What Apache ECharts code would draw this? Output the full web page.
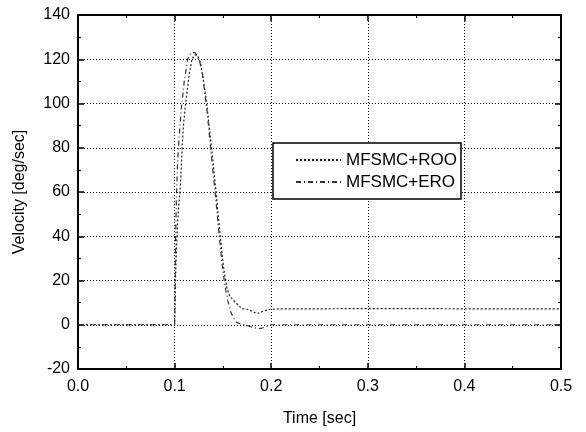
<!DOCTYPE html>
<html>
<head>
<meta charset="utf-8">
<script src="https://cdn.jsdelivr.net/npm/echarts@6/dist/echarts.min.js"></script>
<style>
  html, body { margin: 0; padding: 0; background: #fff; }
  #chart { width: 586px; height: 432px; }
</style>
</head>
<body>
<div id="chart"></div>
<script>
// MFSMC+ROO (settles around 7 deg/sec)
const timeRoo = [0, 0.1, 0.1005, 0.101, 0.102, 0.103, 0.1045, 0.106, 0.107, 0.108, 0.1095, 0.112, 0.115, 0.118, 0.121, 0.124, 0.127, 0.130, 0.133, 0.136, 0.139, 0.142, 0.145, 0.148, 0.151, 0.154, 0.157, 0.161, 0.1645, 0.1695, 0.176, 0.181, 0.185, 0.189, 0.192, 0.199, 0.21, 0.25, 0.3, 0.35, 0.4, 0.45, 0.5]
const velRoo = [0, 0, 10, 22, 35, 45, 55, 63, 72, 82, 92, 102, 113, 120, 122, 121.5, 118, 110, 101, 89, 77, 64, 50, 37, 25, 17, 13, 11, 9.5, 7.3, 6.9, 6, 5.1, 5.6, 6.2, 7, 7.2, 7.2, 7.3, 7.3, 7.2, 7.2, 7.2]
// MFSMC+ERO (settles at 0)
const timeEro = [0, 0.1, 0.1003, 0.1007, 0.101, 0.1015, 0.102, 0.103, 0.1045, 0.107, 0.110, 0.1135, 0.117, 0.119, 0.121, 0.123, 0.126, 0.129, 0.132, 0.134, 0.137, 0.140, 0.143, 0.146, 0.149, 0.152, 0.155, 0.158, 0.161, 0.164, 0.168, 0.172, 0.178, 0.185, 0.190, 0.195, 0.2, 0.5]
const velEro = [0, 0, 10, 25, 38, 50, 60, 72, 84, 98, 110, 120, 123, 123.3, 123, 122, 119, 113, 102, 95, 81, 68, 55, 41, 28, 18, 11, 6, 3, 1.2, 0.3, 0, -0.8, -1.6, -1.6, -0.8, 0, 0]

const xTicks = ['0.0', '0.1', '0.2', '0.3', '0.4', '0.5']
const yTicks = [-20, 0, 20, 40, 60, 80, 100, 120, 140]

const font = "'Liberation Sans', Arial, sans-serif"

function pairs(ts, vs) {
  return ts.map((t, i) => [t, vs[i]])
}

const myChart = echarts.init(document.getElementById('chart'))

const baseAxisLine = { show: true, onZero: false, lineStyle: { color: '#000', width: 2 } }
const baseTick = { show: true, inside: true, length: 6, lineStyle: { color: '#000', width: 1.5 } }
const baseMinor = { show: true, splitNumber: 2, length: 3, lineStyle: { color: '#000', width: 1 } }
const gridLine = { show: true, lineStyle: { color: '#000', width: 1, type: [1, 2] } }

const option = {
  animation: false,
  backgroundColor: '#fff',
  grid: { left: 78, right: 25, top: 15, bottom: 60 },
  legend: {
    left: 273,
    top: 143,
    orient: 'vertical',
    backgroundColor: '#fff',
    borderColor: '#000',
    borderWidth: 1.5,
    borderRadius: 0,
    padding: [8, 4, 8, 22],
    itemWidth: 45,
    itemHeight: 14,
    itemGap: 4,
    itemStyle: { opacity: 0 },
    textStyle: { fontFamily: font, fontSize: 17, color: '#000', lineHeight: 18 },
    data: ['MFSMC+ROO', 'MFSMC+ERO']
  },
  xAxis: [
    {
      type: 'value',
      position: 'bottom',
      min: 0,
      max: 0.5,
      interval: 0.1,
      name: 'Time [sec]',
      nameLocation: 'middle',
      nameGap: 42,
      nameTextStyle: { fontFamily: font, fontSize: 16, color: '#000' },
      axisLine: baseAxisLine,
      axisTick: baseTick,
      minorTick: baseMinor,
      axisLabel: {
        fontFamily: font, fontSize: 16, color: '#000', margin: 10,
        formatter: (v) => xTicks[Math.round(v * 10)]
      },
      splitLine: gridLine
    },
    {
      type: 'value',
      position: 'top',
      min: 0,
      max: 0.5,
      interval: 0.1,
      axisLine: baseAxisLine,
      axisTick: baseTick,
      minorTick: baseMinor,
      axisLabel: { show: false },
      splitLine: { show: false }
    }
  ],
  yAxis: [
    {
      type: 'value',
      position: 'left',
      min: yTicks[0],
      max: yTicks[yTicks.length - 1],
      interval: 20,
      name: 'Velocity [deg/sec]',
      nameLocation: 'middle',
      nameGap: 50,
      nameTextStyle: { fontFamily: font, fontSize: 16, color: '#000' },
      axisLine: baseAxisLine,
      axisTick: baseTick,
      minorTick: baseMinor,
      axisLabel: { fontFamily: font, fontSize: 16, color: '#000', margin: 8 },
      splitLine: gridLine
    },
    {
      type: 'value',
      position: 'right',
      min: yTicks[0],
      max: yTicks[yTicks.length - 1],
      interval: 20,
      axisLine: baseAxisLine,
      axisTick: baseTick,
      minorTick: baseMinor,
      axisLabel: { show: false },
      splitLine: { show: false }
    }
  ],
  series: [
    {
      name: 'MFSMC+ROO',
      type: 'line',
      xAxisIndex: 0,
      yAxisIndex: 0,
      symbol: 'none',
      data: pairs(timeRoo, velRoo),
      lineStyle: { color: '#222', width: 1.2, type: [2, 2] },
      itemStyle: { color: '#222' }
    },
    {
      name: 'MFSMC+ERO',
      type: 'line',
      xAxisIndex: 0,
      yAxisIndex: 0,
      symbol: 'none',
      data: pairs(timeEro, velEro),
      lineStyle: { color: '#333', width: 1.2, type: [5, 3, 1, 3] },
      itemStyle: { color: '#333' }
    }
  ]
}

myChart.setOption(option)
</script>
</body>
</html>
